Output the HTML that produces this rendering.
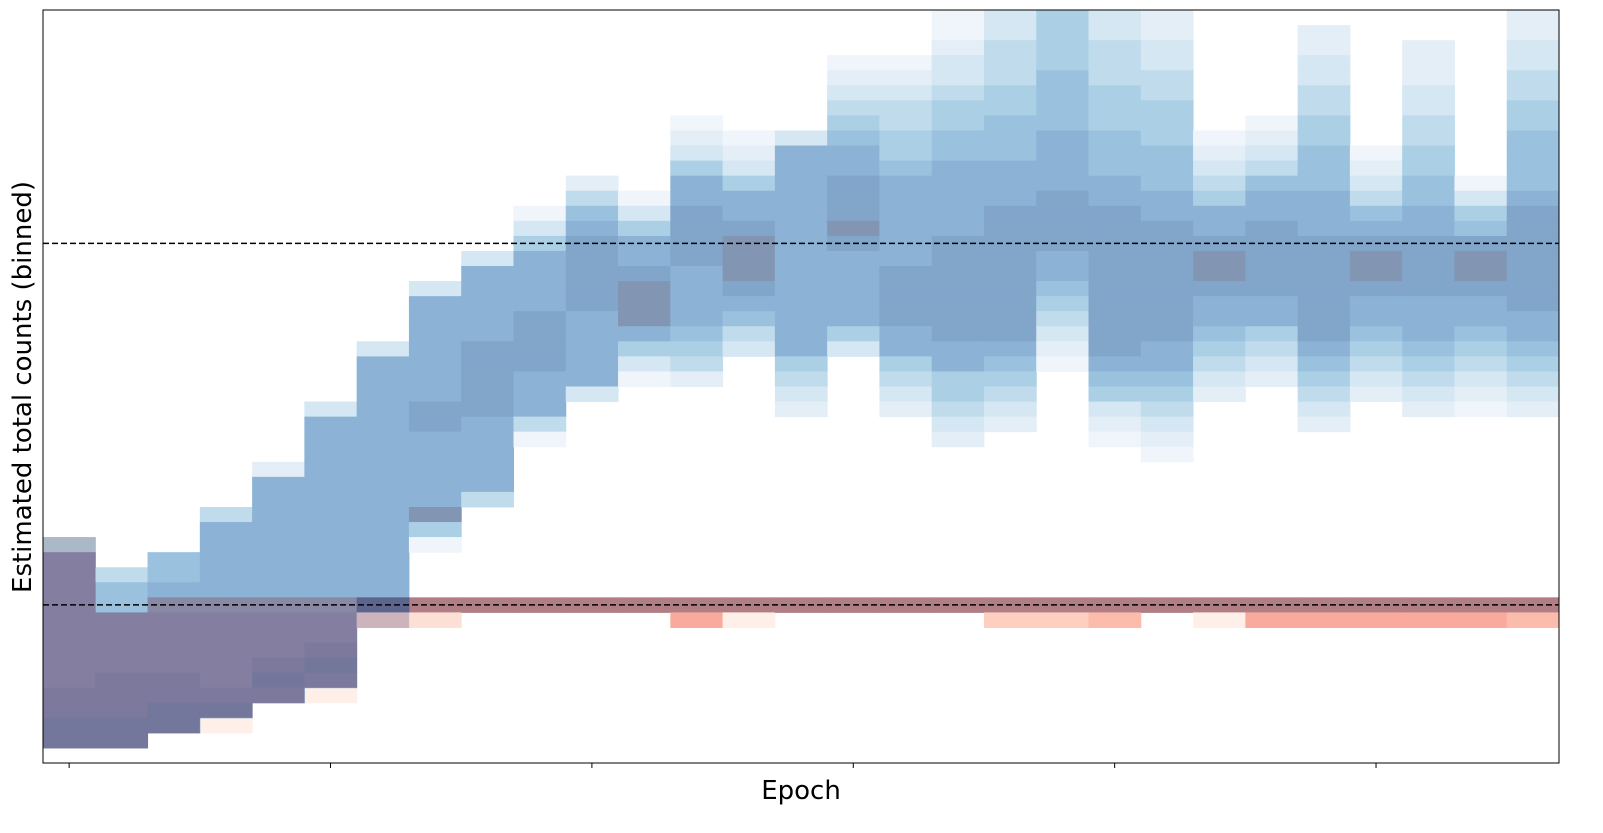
<!DOCTYPE html>
<html><head><meta charset="utf-8"><style>
html,body{margin:0;padding:0;background:#fff;}
svg{display:block;font-family:"DejaVu Sans","Liberation Sans",sans-serif;}
</style></head><body>
<svg id="chart" width="1603" height="833" viewBox="0 0 1603 833">
<g id="cells-red" opacity="0.5"></g>
<g id="cells-blue" opacity="0.5"></g>
<g id="refs"></g>
<rect x="43" y="10" width="1516" height="753" fill="none" stroke="#000" stroke-width="1"/>
<g id="ticks"></g>
<text x="801" y="799" font-size="26" text-anchor="middle">Epoch</text>
<text transform="translate(31,387) rotate(-90)" font-size="26" text-anchor="middle">Estimated total counts (binned)</text>
</svg>
<script>
// data: per epoch column, top bin index and per-bin intensity digits (0-9)
const blueTop = [35,37,36,33,30,26,22,18,16,13,11,12,7,8,8,3,3,0,0,0,0,0,8,7,1,9,2,11,0];
const blueVals = [
"57777777777777","466777777777","667777777777","47777777777777","2777777777777777",
"3777777777777777777","3777777777777777783","377777778877777951","37777788888777774",
"1357777888877741","246788888777773","1357789997531","123577888877776542","123577899987643",
"3777777777777775432","12345677888987777753","123445567777778888775432",
"11233455667777788888887755432","3344455666777888888888765432","555566667777888877654321",
"33444555666778888888888765321","223344555666778888888877654321","123457789987765432",
"123467788888775432","223344556667778888888765432","12346789987765432",
"2223344556677888877765432","1356899877654321","223344556666788888887765432"];
const redTop = [35,40,39,39,39,39,39,39,39,39,39,39,39,39,39,39,39,39,39,39,39,39,39,39,39,39,39,39,39];
const redVals = [
"36666666667788","666677788","566667788","566666781","5666787","5667871","96",
"92","9","9","9","9","95","91","9","9","9","9","93","93","94","9","91","95","95","95","95","95","94"];
const refBins = [15,39];
const tickCols = [0,5,10,15,20,25];

const X0=43, X1=1559, Y0=10, Y1=763, NCOL=29, NROW=50;
const cw=(X1-X0)/NCOL, rh=(Y1-Y0)/NROW;
function xScale(c){return X0+c*cw;}
function yScale(r){return Y0+r*rh;}
const blues=[[247,251,255],[222,235,247],[198,219,239],[158,202,225],[107,174,214],[66,146,198],[33,113,181],[8,81,156],[8,48,107]];
const reds=[[255,245,240],[254,224,210],[252,187,161],[252,146,114],[251,106,74],[239,59,44],[203,24,29],[165,15,21],[103,0,13]];
function cmap(stops,v){const p=v*(stops.length-1);const i=Math.min(Math.floor(p),stops.length-2);const t=p-i;
 const c=stops[i].map((a,k)=>Math.round(a+(stops[i+1][k]-a)*t));return `rgb(${c[0]},${c[1]},${c[2]})`;}
const NS="http://www.w3.org/2000/svg";
function drawLayer(gid,tops,vals,stops,nm){
 const g=document.getElementById(gid);
 vals.forEach((s,c)=>{for(let k=0;k<s.length;k++){const d=+s[k];if(!d)continue;const r=tops[c]+k;
  const el=document.createElementNS(NS,'rect');
  el.setAttribute('x',xScale(c));el.setAttribute('y',yScale(r));
  el.setAttribute('width',cw+0.5);el.setAttribute('height',rh+0.5);
  el.setAttribute('fill',cmap(stops,d/9));
  
  
  g.appendChild(el);}});
}
drawLayer('cells-red',redTop,redVals,reds,'red-cell');
drawLayer('cells-blue',blueTop,blueVals,blues,'blue-cell');
const rg=document.getElementById('refs');
refBins.forEach(b=>{const y=yScale(b+0.5);const l=document.createElementNS(NS,'line');
 l.setAttribute('x1',X0);l.setAttribute('x2',X1);l.setAttribute('y1',y);l.setAttribute('y2',y);
 l.setAttribute('stroke','#000');l.setAttribute('stroke-width','1.5');l.setAttribute('stroke-dasharray','6 3');
 
 
 rg.appendChild(l);});
const tg=document.getElementById('ticks');
tickCols.forEach(c=>{const x=xScale(c+0.5);const l=document.createElementNS(NS,'line');
 l.setAttribute('x1',x);l.setAttribute('x2',x);l.setAttribute('y1',Y1);l.setAttribute('y2',Y1+5);
 l.setAttribute('stroke','#000');l.setAttribute('stroke-width','1');
 
 
 tg.appendChild(l);});
</script>
</body></html>
